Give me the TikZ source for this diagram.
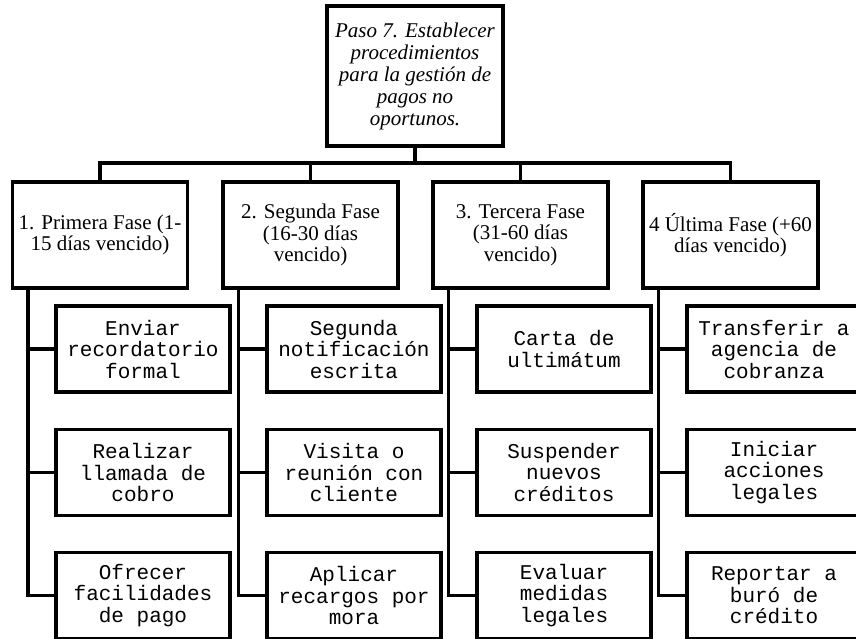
\documentclass[tikz,border=0pt]{standalone}
\usepackage{fontspec}
\setmainfont{Liberation Serif}
\newfontfamily\monofam{Liberation Mono}
\begin{document}
\begin{tikzpicture}[x=1pt,y=-1pt,
  line width=3.1pt,
  topbox/.style={draw, minimum width=176pt, minimum height=140pt, inner sep=0pt,
    align=center, font=\fontsize{21}{22}\selectfont\itshape},
  phasebox/.style={draw, minimum width=175pt, minimum height=106pt, inner sep=0pt,
    align=center, font=\fontsize{21}{21.5}\selectfont},
  taskbox/.style={draw, minimum width=174pt, minimum height=86pt, inner sep=0pt,
    align=center, font=\fontsize{21}{21.5}\selectfont\monofam},
  link/.style={draw, line cap=rect}]
\useasboundingbox (0,0) rectangle (856,639);
\clip (0,0) rectangle (856,639);

% root
\node[topbox] (top) at (415,76) {Paso 7. Establecer\\procedimientos\\para la gestión de\\pagos no\\oportunos.};

% phases
\node[phasebox] (p1) at (100,235)   {1. Primera Fase (1-\\15 días vencido)};
\node[phasebox] (p2) at (310.5,235) {2. Segunda Fase\\(16-30 días\\vencido)};
\node[phasebox] (p3) at (520.5,235) {3. Tercera Fase\\(31-60 días\\vencido)};
\node[phasebox] (p4) at (730.5,235) {4 Última Fase (+60\\días vencido)};

% tasks
\node[taskbox] (a1) at (143,349)   {Enviar\\recordatorio\\formal};
\node[taskbox] (a2) at (143,472.5) {Realizar\\llamada de\\cobro};
\node[taskbox] (a3) at (143,595.5) {Ofrecer\\facilidades\\de pago};

\node[taskbox] (b1) at (354,349)   {Segunda\\notificación\\escrita};
\node[taskbox] (b2) at (354,472.5) {Visita o\\reunión con\\cliente};
\node[taskbox] (b3) at (354,595.5) {Aplicar\\recargos por\\mora};

\node[taskbox] (c1) at (564,349)   {Carta de\\ultimátum};
\node[taskbox] (c2) at (564,472.5) {Suspender\\nuevos\\créditos};
\node[taskbox] (c3) at (564,595.5) {Evaluar\\medidas\\legales};

\node[taskbox] (d1) at (774,349)   {Transferir a\\agencia de\\cobranza};
\node[taskbox] (d2) at (774,472.5) {Iniciar\\acciones\\legales};
\node[taskbox] (d3) at (774,595.5) {Reportar a\\buró de\\crédito};

% horizontal bus under the root
\coordinate (bus) at (0,163);
\draw[link] (top.south) -- (top.south |- bus);
\draw[link] (p1.north |- bus) -- (p4.north |- bus);
\foreach \p in {p1,p2,p3,p4}
  \draw[link] (\p.north |- bus) -- (\p.north);

% spines and branches
\foreach \p/\t in {p1/a,p2/b,p3/c,p4/d}{
  \coordinate (s\p) at ([xshift=17pt]\p.south west);
  \draw[link] (s\p) -- (s\p |- \t3.west);
  \foreach \k in {1,2,3}
    \draw[link] (s\p |- \t\k.west) -- (\t\k.west);
}
\end{tikzpicture}
\end{document}
